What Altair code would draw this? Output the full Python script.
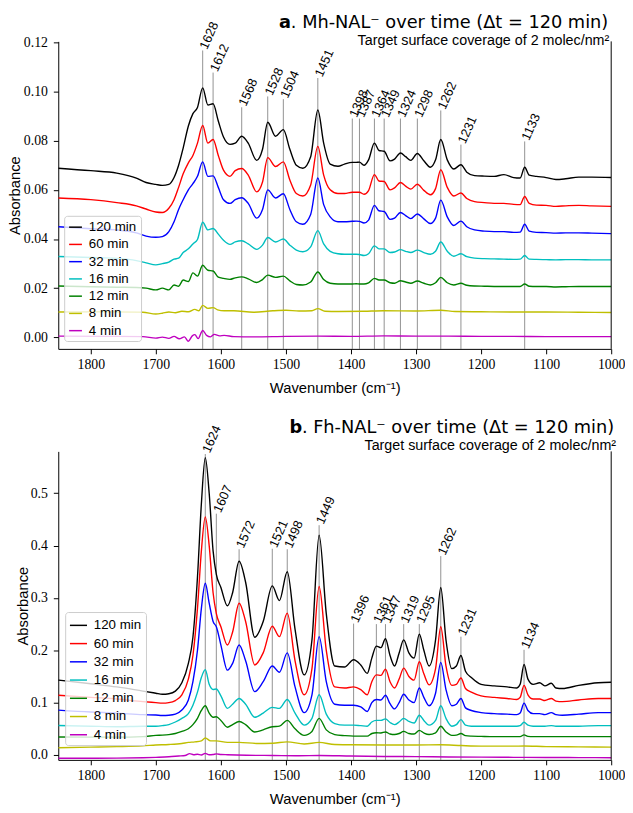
import altair as alt
import pandas as pd

SERIES = ["120 min", "60 min", "32 min", "16 min", "12 min", "8 min", "4 min"]
COLORS = ["#000000", "#ff0000", "#0000ff", "#00bfbf", "#008000", "#bfbf00", "#bf00bf"]
X_TICKS = [1000, 1100, 1200, 1300, 1400, 1500, 1600, 1700, 1800]
A_Y_TICKS = [0.0, 0.02, 0.04, 0.06, 0.08, 0.10, 0.12]
B_Y_TICKS = [0.0, 0.1, 0.2, 0.3, 0.4, 0.5]

# ---------------- panel a (Mh-NAL-) ----------------
A_GRID = [1850, 1800, 1760, 1730, 1715, 1700, 1690, 1680, 1672, 1665,
          1658, 1650, 1643, 1636, 1628, 1620, 1612, 1604, 1596, 1586,
          1578, 1568, 1558, 1545, 1536, 1528, 1516, 1504, 1494, 1484,
          1474, 1462, 1451, 1442, 1432, 1420, 1410, 1398, 1392, 1387,
          1380, 1373, 1364, 1357, 1349, 1340, 1333, 1324, 1316, 1308,
          1298, 1288, 1278, 1270, 1262, 1252, 1242, 1231, 1222, 1210,
          1195, 1180, 1165, 1150, 1140, 1133, 1126, 1115, 1100, 1085,
          1070, 1050, 1030, 1000]
A_120 = [0.0688, 0.0678, 0.0668, 0.0648, 0.0630, 0.0622, 0.0618, 0.0622, 0.0650, 0.0700,
         0.0770, 0.0860, 0.0910, 0.0935, 0.1015, 0.0945, 0.0950, 0.0880, 0.0815, 0.0785,
         0.0790, 0.0818, 0.0790, 0.0720, 0.0765, 0.0875, 0.0818, 0.0845, 0.0765, 0.0700,
         0.0688, 0.0735, 0.0925, 0.0790, 0.0705, 0.0696, 0.0705, 0.0712, 0.0712, 0.0713,
         0.0700, 0.0722, 0.0790, 0.0760, 0.0757, 0.0718, 0.0725, 0.0750, 0.0735, 0.0720,
         0.0748, 0.0718, 0.0692, 0.0722, 0.0805, 0.0722, 0.0685, 0.0702, 0.0672, 0.0658,
         0.0656, 0.0655, 0.0662, 0.0650, 0.0648, 0.0692, 0.0660, 0.0655, 0.0650, 0.0642,
         0.0645, 0.0652, 0.0652, 0.0650]
A_60 = [0.0567, 0.0560, 0.0548, 0.0535, 0.0522, 0.0510, 0.0508, 0.0525, 0.0560, 0.0610,
        0.0665, 0.0710, 0.0740, 0.0790, 0.0862, 0.0790, 0.0805, 0.0740, 0.0680, 0.0655,
        0.0678, 0.0687, 0.0660, 0.0592, 0.0632, 0.0731, 0.0695, 0.0714, 0.0640, 0.0585,
        0.0575, 0.0620, 0.0777, 0.0660, 0.0600, 0.0585, 0.0585, 0.0590, 0.0590, 0.0590,
        0.0582, 0.0597, 0.0662, 0.0636, 0.0634, 0.0600, 0.0608, 0.0630, 0.0615, 0.0603,
        0.0623, 0.0598, 0.0580, 0.0605, 0.0682, 0.0610, 0.0575, 0.0587, 0.0565, 0.0552,
        0.0548, 0.0545, 0.0545, 0.0541, 0.0540, 0.0573, 0.0545, 0.0538, 0.0537, 0.0533,
        0.0535, 0.0537, 0.0535, 0.0533]
A_32 = [0.0450, 0.0442, 0.0437, 0.0425, 0.0412, 0.0407, 0.0410, 0.0430, 0.0470, 0.0520,
        0.0560, 0.0600, 0.0625, 0.0655, 0.0714, 0.0655, 0.0657, 0.0610, 0.0560, 0.0545,
        0.0560, 0.0568, 0.0545, 0.0485, 0.0520, 0.0600, 0.0567, 0.0584, 0.0520, 0.0470,
        0.0460, 0.0500, 0.0648, 0.0540, 0.0490, 0.0470, 0.0470, 0.0472, 0.0473, 0.0472,
        0.0465, 0.0477, 0.0537, 0.0515, 0.0512, 0.0480, 0.0485, 0.0508, 0.0495, 0.0483,
        0.0502, 0.0482, 0.0463, 0.0485, 0.0558, 0.0490, 0.0455, 0.0473, 0.0450, 0.0437,
        0.0432, 0.0430, 0.0430, 0.0427, 0.0428, 0.0460, 0.0432, 0.0427, 0.0426, 0.0424,
        0.0425, 0.0425, 0.0424, 0.0422]
A_16 = [0.0329, 0.0325, 0.0321, 0.0312, 0.0303, 0.0295, 0.0300, 0.0306, 0.0318, 0.0322,
        0.0345, 0.0360, 0.0380, 0.0398, 0.0468, 0.0437, 0.0443, 0.0420, 0.0395, 0.0378,
        0.0388, 0.0393, 0.0380, 0.0358, 0.0375, 0.0406, 0.0388, 0.0400, 0.0375, 0.0355,
        0.0348, 0.0368, 0.0434, 0.0380, 0.0350, 0.0340, 0.0338, 0.0338, 0.0338, 0.0337,
        0.0333, 0.0340, 0.0372, 0.0360, 0.0360, 0.0345, 0.0347, 0.0357, 0.0350, 0.0345,
        0.0355, 0.0345, 0.0338, 0.0350, 0.0388, 0.0350, 0.0330, 0.0340, 0.0328, 0.0322,
        0.0320, 0.0319, 0.0318, 0.0317, 0.0318, 0.0333, 0.0318, 0.0317, 0.0316, 0.0315,
        0.0316, 0.0316, 0.0315, 0.0315]
A_12 = [0.0209, 0.0206, 0.0204, 0.0203, 0.0200, 0.0193, 0.0200, 0.0193, 0.0213, 0.0208,
        0.0233, 0.0227, 0.0262, 0.0249, 0.0293, 0.0273, 0.0270, 0.0245, 0.0240, 0.0236,
        0.0242, 0.0246, 0.0238, 0.0223, 0.0235, 0.0253, 0.0244, 0.0249, 0.0230, 0.0215,
        0.0213, 0.0225, 0.0266, 0.0235, 0.0220, 0.0217, 0.0217, 0.0217, 0.0218, 0.0217,
        0.0217, 0.0222, 0.0240, 0.0233, 0.0233, 0.0222, 0.0220, 0.0230, 0.0225, 0.0220,
        0.0229, 0.0220, 0.0213, 0.0222, 0.0244, 0.0222, 0.0213, 0.0220, 0.0212, 0.0209,
        0.0208, 0.0207, 0.0207, 0.0207, 0.0207, 0.0217, 0.0208, 0.0207, 0.0207, 0.0205,
        0.0206, 0.0207, 0.0207, 0.0207]
A_8_WN = [1850, 1780, 1720, 1700, 1690, 1680, 1670, 1660, 1650, 1640,
          1634, 1628, 1620, 1612, 1605, 1595, 1580, 1550, 1520, 1500,
          1480, 1460, 1451, 1440, 1420, 1380, 1350, 1300, 1262, 1240,
          1200, 1150, 1100, 1050, 1000]
A_8 = [0.0103, 0.0104, 0.0102, 0.0095, 0.0098, 0.0103, 0.0100, 0.0106, 0.0104, 0.0114,
       0.0108, 0.0130, 0.0118, 0.0121, 0.0112, 0.0108, 0.0108, 0.0102, 0.0108, 0.0110,
       0.0107, 0.0108, 0.0117, 0.0106, 0.0105, 0.0106, 0.0108, 0.0107, 0.0110, 0.0105,
       0.0104, 0.0103, 0.0103, 0.0102, 0.0101]
A_4_WN = [1850, 1780, 1720, 1700, 1690, 1680, 1672, 1664, 1656, 1650,
          1644, 1640, 1635, 1628, 1622, 1616, 1610, 1602, 1595, 1580,
          1550, 1500, 1450, 1400, 1350, 1300, 1250, 1200, 1150, 1100,
          1050, 1000]
A_4 = [0.0005, 0.0004, 0.0003, -0.0003, 0.0001, -0.0004, 0.0004, -0.0006, 0.0002, -0.0016,
       0.0006, 0.0011, -0.0005, 0.0028, 0.0008, 0.0002, 0.0012, 0.0006, 0.0008, 0.0003,
       0.0002, 0.0004, 0.0005, 0.0004, 0.0006, 0.0005, 0.0005, 0.0004, 0.0004, 0.0003,
       0.0003, 0.0003]
A_PEAK_WN = [1628, 1612, 1568, 1528, 1504, 1451, 1398, 1387, 1364, 1349, 1324, 1298, 1262, 1231, 1133]
A_PEAK_TOP = [0.1167, 0.1077, 0.0936, 0.0980, 0.0969, 0.1055, 0.0890, 0.0890, 0.0890, 0.0890,
              0.0890, 0.0890, 0.0923, 0.0784, 0.0797]

# ---------------- panel b (Fh-NAL-) ----------------
B_GRID = [1850, 1800, 1760, 1720, 1700, 1690, 1680, 1670, 1660, 1650,
          1643, 1636, 1630, 1624, 1618, 1612, 1607, 1600, 1590, 1582,
          1572, 1562, 1548, 1535, 1521, 1510, 1498, 1486, 1472, 1460,
          1449, 1438, 1425, 1410, 1396, 1385, 1375, 1368, 1361, 1354,
          1347, 1340, 1333, 1326, 1319, 1311, 1303, 1295, 1288, 1280,
          1270, 1262, 1254, 1245, 1238, 1231, 1224, 1215, 1200, 1180,
          1160, 1145, 1140, 1134, 1128, 1120, 1110, 1102, 1092, 1085,
          1075, 1050, 1020, 1000]
B_120 = [0.143, 0.136, 0.130, 0.122, 0.118, 0.116, 0.117, 0.122, 0.138, 0.175,
         0.225, 0.340, 0.480, 0.568, 0.500, 0.390, 0.345, 0.320, 0.285, 0.310,
         0.370, 0.330, 0.225, 0.255, 0.323, 0.295, 0.350, 0.240, 0.153, 0.220,
         0.420, 0.270, 0.170, 0.168, 0.182, 0.172, 0.156, 0.185, 0.208, 0.205,
         0.222, 0.190, 0.170, 0.195, 0.220, 0.195, 0.185, 0.231, 0.200, 0.170,
         0.220, 0.320, 0.220, 0.165, 0.170, 0.190, 0.160, 0.148, 0.135, 0.132,
         0.130, 0.128, 0.135, 0.173, 0.145, 0.135, 0.138, 0.132, 0.137, 0.128,
         0.127, 0.133, 0.138, 0.139]
B_60 = [0.114, 0.110, 0.107, 0.102, 0.100, 0.099, 0.100, 0.104, 0.115, 0.145,
        0.190, 0.280, 0.390, 0.455, 0.400, 0.310, 0.270, 0.245, 0.210, 0.235,
        0.290, 0.255, 0.172, 0.195, 0.246, 0.226, 0.271, 0.180, 0.115, 0.165,
        0.322, 0.200, 0.130, 0.128, 0.130, 0.125, 0.115, 0.140, 0.153, 0.152,
        0.164, 0.140, 0.128, 0.145, 0.166, 0.150, 0.143, 0.178, 0.155, 0.134,
        0.165, 0.245, 0.170, 0.133, 0.135, 0.147, 0.127, 0.120, 0.113, 0.110,
        0.108, 0.106, 0.110, 0.133, 0.115, 0.107, 0.107, 0.104, 0.108, 0.103,
        0.102, 0.105, 0.108, 0.108]
B_32 = [0.0856, 0.082, 0.080, 0.077, 0.0763, 0.0755, 0.076, 0.078, 0.086, 0.105,
        0.140, 0.200, 0.280, 0.328, 0.290, 0.255, 0.245, 0.210, 0.162, 0.175,
        0.210, 0.180, 0.121, 0.140, 0.170, 0.158, 0.195, 0.130, 0.081, 0.115,
        0.226, 0.140, 0.097, 0.095, 0.095, 0.092, 0.083, 0.100, 0.106, 0.105,
        0.114, 0.098, 0.088, 0.100, 0.116, 0.105, 0.100, 0.128, 0.110, 0.094,
        0.118, 0.177, 0.125, 0.094, 0.097, 0.108, 0.090, 0.085, 0.081, 0.079,
        0.078, 0.077, 0.080, 0.099, 0.085, 0.079, 0.079, 0.077, 0.081, 0.077,
        0.076, 0.078, 0.081, 0.081]
B_16 = [0.0563, 0.055, 0.054, 0.055, 0.055, 0.056, 0.058, 0.063, 0.070, 0.079,
        0.095, 0.120, 0.148, 0.163, 0.135, 0.125, 0.126, 0.113, 0.089, 0.097,
        0.108, 0.097, 0.072, 0.080, 0.091, 0.089, 0.106, 0.080, 0.057, 0.070,
        0.115, 0.078, 0.060, 0.057, 0.057, 0.056, 0.055, 0.063, 0.066, 0.066,
        0.069, 0.062, 0.058, 0.063, 0.070, 0.064, 0.061, 0.076, 0.066, 0.057,
        0.066, 0.094, 0.070, 0.055, 0.058, 0.0675, 0.057, 0.055, 0.055, 0.055,
        0.055, 0.055, 0.056, 0.0625, 0.057, 0.055, 0.055, 0.055, 0.056, 0.055,
        0.055, 0.055, 0.056, 0.056]
B_12 = [0.0344, 0.034, 0.034, 0.035, 0.0375, 0.038, 0.039, 0.041, 0.045, 0.050,
        0.058, 0.070, 0.085, 0.094, 0.080, 0.072, 0.073, 0.066, 0.053, 0.058,
        0.064, 0.058, 0.044, 0.048, 0.054, 0.055, 0.066, 0.050, 0.0375, 0.045,
        0.070, 0.048, 0.039, 0.037, 0.036, 0.036, 0.036, 0.041, 0.0425, 0.042,
        0.044, 0.040, 0.039, 0.041, 0.045, 0.041, 0.040, 0.047, 0.042, 0.039,
        0.042, 0.055, 0.044, 0.0375, 0.038, 0.041, 0.037, 0.036, 0.0355, 0.035,
        0.035, 0.035, 0.035, 0.0385, 0.0355, 0.035, 0.035, 0.035, 0.035, 0.035,
        0.035, 0.035, 0.035, 0.035]
B_8_WN = [1850, 1800, 1760, 1720, 1700, 1680, 1660, 1650, 1640, 1630,
          1624, 1616, 1607, 1590, 1572, 1545, 1520, 1498, 1472, 1449,
          1425, 1400, 1350, 1300, 1262, 1230, 1200, 1150, 1134, 1100,
          1050, 1000]
B_8 = [0.0138, 0.0150, 0.0160, 0.0175, 0.0190, 0.0200, 0.0220, 0.0240, 0.0250, 0.0270,
       0.0325, 0.0270, 0.0270, 0.0240, 0.0240, 0.0220, 0.0225, 0.0250, 0.0210, 0.0240,
       0.0200, 0.0195, 0.0190, 0.0190, 0.0195, 0.0180, 0.0170, 0.0168, 0.0172, 0.0160,
       0.0155, 0.0150]
B_4_WN = [1850, 1800, 1760, 1720, 1700, 1680, 1665, 1655, 1648, 1642,
          1636, 1630, 1624, 1618, 1612, 1607, 1600, 1590, 1560, 1520,
          1480, 1449, 1400, 1350, 1300, 1250, 1200, 1150, 1100, 1050,
          1000]
B_4 = [-0.0063, -0.0062, -0.0060, -0.0052, -0.0045, -0.0035, -0.0020, -0.0010, 0.0025, 0.0005,
       0.0015, 0.0000, 0.0030, 0.0005, 0.0010, 0.0020, 0.0010, 0.0005, -0.0005, -0.0010,
       -0.0015, -0.0010, -0.0020, -0.0028, -0.0032, -0.0038, -0.0042, -0.0045, -0.0048, -0.0050,
       -0.0052]
B_PEAK_WN = [1624, 1607, 1572, 1521, 1498, 1449, 1396, 1361, 1347, 1319, 1295, 1262, 1231, 1134]
B_PEAK_TOP = [0.575, 0.461, 0.393, 0.394, 0.393, 0.439, 0.251, 0.250, 0.250, 0.250,
              0.250, 0.380, 0.226, 0.201]

TITLE_A_BOLD = "a"
TITLE_A_REST = ". Mh-NAL⁻ over time (Δt = 120 min)"
TITLE_B_BOLD = "b"
TITLE_B_REST = ". Fh-NAL⁻ over time (Δt = 120 min)"
SUBTITLE = "Target surface coverage of 2 molec/nm²"


def make_df(entries):
    frames = []
    for name, wn, vals in entries:
        assert len(wn) == len(vals), name
        frames.append(pd.DataFrame({"series": name, "wn": wn, "absorb": vals}))
    return pd.concat(frames, ignore_index=True)


def build_panel(df, pk_wn, pk_top, ydom, yticks, yfmt, W, H, yext, leg, tpos):
    xsc = alt.Scale(domain=[1000, 1850], reverse=True, nice=False, zero=False)
    ysc = alt.Scale(domain=ydom, nice=False, zero=False)
    xax = alt.Axis(values=X_TICKS, format="d", title="Wavenumber (cm⁻¹)", grid=False,
                   tickSize=5, labelPadding=4, titlePadding=9, labelFlush=False,
                   labelOverlap=False)
    yax = alt.Axis(values=yticks, format=yfmt, title="Absorbance", grid=False,
                   tickSize=5, labelPadding=6, titlePadding=1,
                   minExtent=yext, maxExtent=yext, labelOverlap=False)
    X = alt.X("wn:Q", scale=xsc, axis=xax)

    pk = pd.DataFrame({"wn": pk_wn, "top": pk_top, "lab": [str(w) for w in pk_wn]})
    rules = alt.Chart(pk).mark_rule(color="#333333", strokeWidth=0.9, opacity=0.6).encode(
        x=X, y=alt.Y("top:Q", scale=ysc, axis=yax), y2=alt.value(H))
    lines = alt.Chart(df).mark_line(strokeWidth=1.4, interpolate="monotone", clip=True).encode(
        x=X,
        y=alt.Y("absorb:Q", scale=ysc, axis=yax),
        color=alt.Color("series:N", scale=alt.Scale(domain=SERIES, range=COLORS),
                        legend=alt.Legend(orient="none", legendX=leg["x"], legendY=leg["y"],
                                          title=None, symbolType="stroke",
                                          symbolSize=leg["ss"], symbolStrokeWidth=1.5,
                                          labelFont="Liberation Sans", labelFontSize=13.5,
                                          labelColor="black",
                                          rowPadding=leg["rp"], padding=leg["pad"],
                                          labelOffset=6,
                                          fillColor="rgba(255,255,255,0.8)",
                                          strokeColor="#cccccc", cornerRadius=3)),
    )
    labels = alt.Chart(pk).mark_text(angle=294, align="left", baseline="middle",
                                     font="Liberation Sans", fontSize=13, color="black",
                                     dx=2).encode(
        x=X, y=alt.Y("top:Q", scale=ysc, axis=yax), text="lab:N")
    spine = alt.Chart(pd.DataFrame({"k": [0]})).mark_rule(color="black", strokeWidth=1).encode(
        x=alt.value(W), y=alt.value(0), y2=alt.value(H))

    def txt(s, x, y, size, align, font, baseline, weight="normal"):
        return alt.Chart(pd.DataFrame({"t": [s]})).mark_text(
            align=align, baseline=baseline, font=font, fontSize=size,
            fontWeight=weight, color="black").encode(
            text="t:N", x=alt.value(x), y=alt.value(y))

    t_rest = txt(tpos["rest"], tpos["rx"], tpos["ty"], 18, "right", "DejaVu Sans", "top")
    t_bold = txt(tpos["bold"], tpos["rx"] - tpos["rw"], tpos["ty"], 18, "right",
                 "DejaVu Sans", "top", "bold")
    t_sub = txt(SUBTITLE, tpos["sx"], tpos["sy"], 14.5, "right", "Liberation Sans", "middle")
    return alt.layer(rules, lines, labels, spine, t_rest, t_bold, t_sub).properties(
        width=W, height=H)


df_a = make_df([
    ("120 min", A_GRID, A_120), ("60 min", A_GRID, A_60), ("32 min", A_GRID, A_32),
    ("16 min", A_GRID, A_16), ("12 min", A_GRID, A_12), ("8 min", A_8_WN, A_8),
    ("4 min", A_4_WN, A_4)])
df_b = make_df([
    ("120 min", B_GRID, B_120), ("60 min", B_GRID, B_60), ("32 min", B_GRID, B_32),
    ("16 min", B_GRID, B_16), ("12 min", B_GRID, B_12), ("8 min", B_8_WN, B_8),
    ("4 min", B_4_WN, B_4)])

WA, HA = 561, 312
WB, HB = 561, 313

panel_a = build_panel(df_a, A_PEAK_WN, A_PEAK_TOP, [-0.0047, 0.1204], A_Y_TICKS, ".2f",
                      WA, HA, 35,
                      {"x": 6, "y": 177, "ss": 169, "rp": 3.5, "pad": 4},
                      {"rest": TITLE_A_REST, "bold": TITLE_A_BOLD, "rx": WA - 3, "rw": 322,
                       "ty": -28, "sx": WA - 2, "sy": -0.5})
panel_b = build_panel(df_b, B_PEAK_WN, B_PEAK_TOP, [-0.0094, 0.580], B_Y_TICKS, ".1f",
                      WB, HB, 27,
                      {"x": 7, "y": 163, "ss": 300, "rp": 2.5, "pad": 4},
                      {"rest": TITLE_B_REST, "bold": TITLE_B_BOLD, "rx": WB + 3, "rw": 316.5,
                       "ty": -32.5, "sx": WB + 5, "sy": -5})

chart = alt.vconcat(panel_a, panel_b, spacing=24).resolve_scale(
    color="independent", x="independent", y="independent").resolve_legend(
    color="independent").properties(padding=0).configure_view(stroke=None).configure_axis(
    domainColor="black", tickColor="black", labelColor="black", titleColor="black",
    domainWidth=1, tickWidth=1, labelFont="Liberation Serif", labelFontSize=14,
    titleFont="Liberation Sans", titleFontSize=15, titleFontWeight="normal")

chart.save("out.html", embed_options={"renderer": "svg", "actions": False})
